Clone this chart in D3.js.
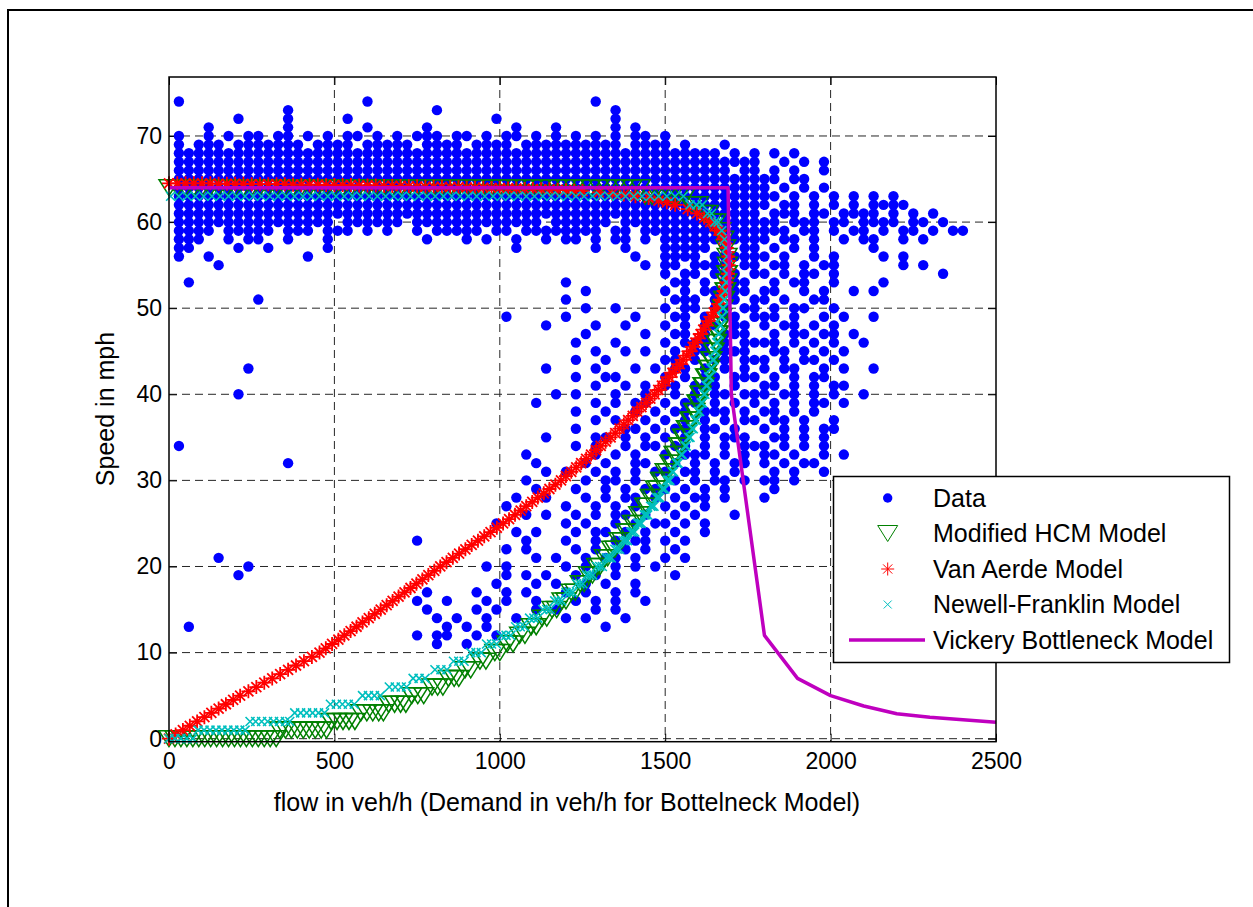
<!DOCTYPE html>
<html>
<head>
<meta charset="utf-8">
<script src="https://cdn.jsdelivr.net/npm/d3@7"></script>
<style>
  body { margin: 0; background: #fff; }
  svg { display: block; }
  text { font-family: "Liberation Sans", Arial, sans-serif; fill: #000; }
</style>
</head>
<body>
<svg id="chart" width="1253" height="907"></svg>
<script>
// ---- axes ----
const xTicks = [0, 500, 1000, 1500, 2000, 2500];
const yTicks = [0, 10, 20, 30, 40, 50, 60, 70];
const xLabel = "flow in veh/h (Demand in veh/h for Bottelneck Model)";
const yLabel = "Speed in mph";
const legendNames = ["Data", "Modified HCM Model", "Van Aerde Model", "Newell-Franklin Model", "Vickery Bottleneck Model"];

// ---- observed data: one row per integer speed (top row = 74 mph),
// one character per 30 veh/h flow bin ('o' = observation) ----
const dataFlowStep = 30;
const dataTopSpeed = 74;
const dataGrid = [
  ".o........ .......... o......... .......... ...o...... .......... .......... .......... ..........", // 74
  ".......... ..o....... .......o.. .......... .....o.... .......... .......... .......... ..........", // 73
  ".......o.. ..o.....o. .......... ...o...... .....o.... .......... .......... .......... ..........", // 72
  "....o..... ..o....... o.....o... .....o...o .....o.o.. .......... .......... .......... ..........", // 71
  ".o..o.o.oo .oo.o.o.oo .o.o.ooo.o o.o.oo.o.o .o.o.o.oo. o......... .......... .......... ..........", // 70
  ".o.ooo.ooo oooo.oooo. ooooo.oooo .oooo.oooo oooooo.ooo o.o...o... .......... .......... ..........", // 69
  ".ooooooooo oooooooooo oooooooooo oooooooooo oooooooooo oooooo.o.o .o.o...... .......... ..........", // 68
  ".ooooooooo oooooooooo oooooooooo oooooooooo oooooooooo oooooooooo ..o.o.o... .......... ..........", // 67
  ".ooooooooo oooooooooo oooooooooo oooooooooo oooooooooo ooooooo.oo .o.o..o... .......... ..........", // 66
  ".ooooooooo oooooooooo oooooooooo oooooooooo oooooooooo oooooooooo oo.oo..... .......... ..........", // 65
  ".ooooooooo oooooooooo oooooooooo oooooooooo oooooooooo oooooooooo o.o.o.o... .......... ..........", // 64
  ".ooooooooo oooooooooo oooooooooo oooooooooo oooooooooo oooooooooo oo.o.o.o.o .o.o...... ..........", // 63
  ".ooooooooo oooooooooo oooooooooo oooooooooo oooooooooo oooooooooo o.oo.o.o.o .oooo..... ..........", // 62
  ".ooooooooo oooooooooo oooooooooo oooooooooo oooooooooo oooooooooo .ooo.oo.oo oo.o.o.o.. ..........", // 61
  ".ooooooooo ooooooo.oo oooo.ooooo oooooooo.o ooooo.oooo oooooooooo oo.ooo.oo. oooo.oo.o. ..........", // 60
  ".oooo.oooo o.ooo.ooo. o.o..o.ooo oo.oo.oooo oooo.oo.oo oooooooooo ooo.oo.o.o o.o.oo.o.o o.........", // 59
  ".ooo..o.oo ..o...o... ......o... o.o..o..o. oo.o.oo.o. oooooooooo o.oo.o..o. oo..o.o... ..........", // 58
  ".oo....o.. o.....o... .......... .....o.... ...o..o... ooooo.o.oo .o.o.o.... .o........ ..........", // 57
  ".o..o..... ....o..... .......... .......... .......o.. oooo.ooooo o.o..o.o.. ..o.o..... ..........", // 56
  ".....o.... .......... .......... .......... ........o. oo.oooo.oo .oo.o.oo.. ....o.o... ..........", // 55
  ".......... .......... .......... .......... .......... o.oo.ooo.o o.o.oo.o.. ........o. ..........", // 54
  "..o....... .......... .......... .......... o......... .oo.o.ooo. .o.oo..o.. ..o....... ..........", // 53
  ".......... .......... .......... .......... ..o....... o.o.oo.oo. oo..o.o..o .o........ ..........", // 52
  ".........o .......... .......... .......... o......... .ooo.o.o.o o.o..oo... .......... ..........", // 51
  ".......... .......... .......... .......... ..o..o.... o.oo.oo.oo .o.oo..o.. .......... ..........", // 50
  ".......... .......... .......... ....o..... o......o.. .oo.o.oo.o oo.o..o.o. .o........ ..........", // 49
  ".......... .......... .......... ........o. ...o..o... o.o.oo.oo. o.oo.o.o.. .......... ..........", // 48
  ".......... .......... .......... .......... ..o.....o. .oo.o.ooo. .o.oo.oo.o .......... ..........", // 47
  ".......... .......... .......... .......... .o...o.... o.ooo.o.oo oo.o.o.o.. o......... ..........", // 46
  ".......... .......... .......... .......... ...o..o.o. .o.oo.ooo. .oo.o.o.o. .......... ..........", // 45
  ".......... .......... .......... .......... .o..o..... oo.o.oo.oo o.o.oo.o.. .......... ..........", // 44
  "........o. .......... .......... ........o. ...o...o.o .oo.o.o.o. o.oo..o.o. .o........ ..........", // 43
  ".......... .......... .......... .......... .o..oo.... o.o.oo.ooo .o.o.oo... .......... ..........", // 42
  ".......... .......... .......... .......... ...o..o.o. oo.ooo.o.. oo.o.o.oo. .......... ..........", // 41
  ".......o.. .......... .......... .........o .o...o..o. .o.o.oo.oo o.oo.o.o.. o......... ..........", // 40
  ".......... .......... .......... .......o.. ...o.o.oo. o.oo.o.o.o .o.o.oo.o. .......... ..........", // 39
  ".......... .......... .......... .......... .o..o..o.o .oo.ooo.o. oo.o.o.... .......... ..........", // 38
  ".......... .......... .......... .......... ...o.o..o. o.o.o.o.oo .oo.o..o.. .......... ..........", // 37
  ".......... .......... .......... .......... .o....oo.o .oo.oo.o.. o.o.o.oo.. .......... ..........", // 36
  ".......... .......... .......... ........o. ...oo.o.o. o.o.o.ooo. .oo.o.o... .......... ..........", // 35
  ".o........ .......... .......... .......... .o.o..o.oo .oo.o.o.oo o.o.o.o... .......... ..........", // 34
  ".......... .......... .......... ......o... ...o.o.o.. o.ooo.o.o. oo.o..o.o. .......... ..........", // 33
  ".......... ..o....... .......... .......o.. ..o.o..oo. .o.o.o.oo. o.o.oo.... .......... ..........", // 32
  ".......... .......... .......... ........o. o..o.o.o.o o.oo.o.o.. .o.o..o... .......... ..........", // 31
  ".......... .......... .......... ......o... ..o.oo.o.. .o.o.oo.o. oo.o...... .......... ..........", // 30
  ".......... .......... .......... .......o.. .o..o.o.oo o.o.o.o... .o........ .......... ..........", // 29
  ".......... .......... .......... .....o..o. ..o.o.oo.o .o.oo.o... o......... .......... ..........", // 28
  ".......... .......... .......... ....o..... o..o.o.o.. o.o.o..... .......... .......... ..........", // 27
  ".......... .......... .......... ......o.o. .o.o.oo.o. .o.o...o.. .......... .......... ..........", // 26
  ".......... .......... .......... ...o...... o.o..o.o.o o.o.o..... .......... .......... ..........", // 25
  ".......... .......... .......... .....o.o.. .o.oo.o.o. .o..o..... .......... .......... ..........", // 24
  ".......... .......... .....o.... ......o... o..o.o.oo. o.o....... .......... .......... ..........", // 23
  ".......... .......... .......... ....o.o... .o.o..o.o. .o........ .......... .......... ..........", // 22
  ".....o.... .......... .......... .......o.o ..o.oo.o.. o.o....... .......... .......... ..........", // 21
  "........o. .......... .......... ..o.o..... o.o..o.o.o .......... .......... .......... ..........", // 20
  ".......o.. .......... .......... ....o.o.o. .o.o.o.... .o........ .......... .......... ..........", // 19
  ".......... .......... .......... ...o...o.o ..o.o..o.. .......... .......... .......... ..........", // 18
  ".......... .......... ......o... .o..o.o... o.o..o.o.. .......... .......... .......... ..........", // 17
  ".......... .......... .....o..o. ..o.o..o.. .o.o.o..o. .......... .......... .......... ..........", // 16
  ".......... .......... ......o... .o.o...o.o ...o.o.... .......... .......... .......... ..........", // 15
  ".......... .......... .......o.o ..o..o.... o.o...o... .......... .......... .......... ..........", // 14
  "..o....... .......... ........o. o.o....... ....o..... .......... .......... .......... ..........", // 13
  ".......... .......... .....o.oo. .o.o...... .......... .......... .......... .......... ..........", // 12
  ".......... .......... .......o.. o......... .......... .......... .......... .......... ..........", // 11
];

// ---- Modified HCM model: [speed, flows at that speed] ----
const hcmRows = [
  [0, [0,18,36,54,72,90,108,126,144,162,180,198,216,234,252,270,288,306,324]],
  [1, [335,352,370,388,406,424,442,460,476]],
  [2, [490,508,526,544,562]],
  [3, [580,598,616,634,648]],
  [4, [664,682,700,716]],
  [5, [734,752,770]],
  [6, [795,812,828]],
  [7, [845,862,876]],
  [8, [895,912]], [9, [940,958]], [10, [985,1000]], [11, [1022,1040]],
  [12, [1060,1076]], [13, [1095,1110]], [14, [1128,1142]], [15, [1158,1172]],
  [16, [1188,1200]], [17, [1216,1228]], [18, [1243,1255]], [19, [1268,1280]],
  [20, [1293,1303]], [21, [1316,1326]], [22, [1338,1348]], [23, [1360,1369]],
  [24, [1381,1389]], [25, [1401,1409]], [26, [1420,1428]], [27, [1438,1445]],
  [28, [1455,1462]], [29, [1471,1478]], [30, [1486,1493]], [31, [1500,1507]],
  [32, [1514,1520]], [33, [1527,1533]], [34, [1540,1546]], [35, [1552,1557]],
  [36, [1564,1569]], [37, [1575,1580]], [38, [1586,1590]], [39, [1596,1600]],
  [40, [1605,1609]], [41, [1614,1618]], [42, [1622,1626]], [43, [1630,1634]],
  [44, [1638,1641]], [45, [1645,1648]], [46, [1652,1655]], [47, [1658,1661]],
  [48, [1664,1666]], [49, [1669,1671]], [50, [1673,1675]], [51, [1677,1679]],
  [52, [1681,1683]], [53, [1684,1686]], [54, [1686,1688]], [55, [1688]],
  [56, [1687]], [57, [1683]], [58, [1677]], [59, [1668]], [60, [1653,1640]],
  [61, [1630,1615]], [62, [1600,1580]],
  [63, [1560,1540,1520,1500,1480,1460,1440]],
  [64, [1425,1400,1375,1350,1325,1300,1275,1250,1225,1200,1175,1150,1125,1100,1075,1050,1025,1000,
        975,950,925,900,875,850,825,800,775,750,725,700,675,650,625,600,575,550,525,500,475,450,
        425,400,375,350,325,300,275,250,225,200,175,150,125,100,75,50,25,0]]
];

// ---- Van Aerde model: [flow, speed] ----
const vanAerdePoints = [
  [0,0],[20,0.5],[42,1],[63,1.5],[85,2],[107,2.5],[128,3],[150,3.5],[172,4],[194,4.5],[215,5],
  [240,5.5],[264,6],[288,6.5],[312,7],[336,7.5],[360,8],[384,8.5],[408,9],[432,9.5],[455,10],
  [474,10.5],[493,11],[512,11.5],[530,12],[549,12.5],[567,13],[585,13.5],[604,14],[622,14.5],[640,15],
  [658,15.5],[676,16],[694,16.5],[712,17],[730,17.5],[748,18],[766,18.5],[784,19],[802,19.5],[820,20],
  [839,20.5],[858,21],[877,21.5],[896,22],[915,22.5],[934,23],[953,23.5],[972,24],[991,24.5],[1010,25],
  [1028,25.5],[1046,26],[1063,26.5],[1080,27],[1098,27.5],[1115,28],[1133,28.5],[1150,29],[1168,29.5],[1185,30],
  [1200,30.5],[1216,31],[1231,31.5],[1246,32],[1261,32.5],[1276,33],[1291,33.5],[1305,34],[1320,34.5],[1335,35],
  [1349,35.5],[1362,36],[1375,36.5],[1388,37],[1402,37.5],[1415,38],[1428,38.5],[1442,39],[1455,39.5],[1468,40],
  [1479,40.5],[1490,41],[1501,41.5],[1512,42],[1522,42.5],[1533,43],[1544,43.5],[1554,44],[1565,44.5],[1575,45],
  [1583,45.5],[1591,46],[1599,46.5],[1607,47],[1615,47.5],[1623,48],[1631,48.5],[1639,49],[1647,49.5],[1655,50],
  [1661,50.5],[1667,51],[1672,51.5],[1677,52],[1681,52.5],[1685,53],[1688,53.5],[1690,54],[1691,54.5],[1692,55],
  [1692,55.5],[1691,56],[1689,56.5],[1686,57],[1682,57.5],[1677,58],[1670,58.5],[1661,59],[1650,59.5],[1636,60],
  [1618,60.5],[1596,61],[1568,61.5],[1530,62],[1505,62.3],[1480,62.5],[1450,62.8],[1410,63],[1375,63.2],[1340,63.3],
  [1300,63.45],[1250,63.6],[1225,63.65],[1200,63.7],[1175,63.75],[1150,63.8],[1125,63.8],[1100,63.85],[1075,63.85],
  [1050,63.9],[1025,63.9],[1000,63.95],[975,63.95],[950,64],[925,64],[900,64],[875,64.05],[850,64.05],[825,64.1],
  [800,64.1],[775,64.1],[750,64.15],[725,64.15],[700,64.2],[675,64.2],[650,64.2],[625,64.25],[600,64.25],[575,64.25],
  [550,64.3],[525,64.3],[500,64.3],[475,64.3],[450,64.35],[425,64.35],[400,64.35],[375,64.35],[350,64.4],[325,64.4],
  [300,64.4],[275,64.4],[250,64.4],[225,64.45],[200,64.45],[175,64.45],[150,64.45],[125,64.5],[100,64.5],[75,64.5],
  [50,64.5],[25,64.5],[0,64.5]
];

// ---- Newell-Franklin model: [speed, flows at that speed] ----
const newellRows = [
  [0, [0,18,36,54,72]],
  [1, [88,106,124,142,160,178,196,214,230]],
  [2, [245,262,280,298,316,334,352,365]],
  [3, [380,398,416,434,452,470]],
  [4, [488,506,524,542,560]],
  [5, [585,603,621,639]],
  [6, [666,684,702,718]],
  [7, [738,756,774]], [8, [804,822,840]], [9, [860,876,892]], [10, [912,928,944]],
  [11, [960,975,990]], [12, [1005,1019,1033]], [13, [1048,1062,1075]], [14, [1090,1103,1115]],
  [15, [1130,1142,1152]], [16, [1166,1177,1187]], [17, [1200,1211,1220]], [18, [1232,1242,1251]],
  [19, [1263,1272,1281]], [20, [1293,1302,1310]], [21, [1322,1330,1337]], [22, [1348,1355,1362]],
  [23, [1373,1380,1386]], [24, [1396,1402,1408]], [25, [1417,1423,1428]], [26, [1437,1442,1447]],
  [27, [1456,1461,1466]], [28, [1474,1479,1483]], [29, [1491,1495,1499]], [30, [1506,1510,1514]],
  [31, [1521,1525]], [32, [1535,1539]], [33, [1548,1552]], [34, [1560,1564]], [35, [1571,1575]],
  [36, [1581,1585]], [37, [1591,1595]], [38, [1600,1604]], [39, [1609,1612]], [40, [1617,1620]],
  [41, [1624,1627]], [42, [1631,1634]], [43, [1638,1641]], [44, [1644,1647]], [45, [1650,1653]],
  [46, [1656,1658]], [47, [1661,1663]], [48, [1666,1668]], [49, [1670,1672]], [50, [1674,1676]],
  [51, [1678,1680]], [52, [1681,1683]], [53, [1684,1686]], [54, [1686,1688]], [55, [1688]],
  [56, [1687]], [57, [1684]], [58, [1679]], [59, [1671]], [60, [1660,1650]], [61, [1640,1628]],
  [62, [1612,1595,1575]],
  [63, [1555,1530,1505,1480,1455,1430,1405,1380,1355,1330,1305,1280,1255,1230,1205,1180,1155,1130,
        1105,1080,1055,1030,1005,980,955,930,905,880,855,830,805,780,755,730,705,680,655,630,605,580,
        555,530,505,480,455,430,405,380,355,330,305,280,255,230,205,180,155,130,105,80,55,30,5]]
];

// ---- Vickery bottleneck model: demand vs speed ----
const vickeryDemand = [0, 1690, 1700, 1800, 1900, 2000, 2100, 2200, 2300, 2400, 2500];
const vickerySpeed  = [64, 64, 40, 12, 7, 5, 3.8, 2.9, 2.5, 2.2, 1.9];

// ---- colours ----
const colData = "#0000ff", colHcm = "#008000", colVan = "#ff0000", colNewell = "#00bfbf", colVick = "#bf00bf";

// ---- layout ----
const svg = d3.select("#chart");
const x = d3.scaleLinear().domain([0, 2500]).range([169, 996]);
const y = d3.scaleLinear().domain([-0.35, 76.85]).range([741.7, 77]);

// figure frame
svg.append("path").attr("d", "M8,907 L8,10 L1253,10")
  .attr("fill", "none").attr("stroke", "#000").attr("stroke-width", 2);

// grid
const grid = svg.append("g").attr("stroke", "#000").attr("stroke-width", 1)
  .attr("stroke-dasharray", "8,5").attr("opacity", 0.85);
grid.selectAll("line.gx").data(xTicks.filter(t => t > 0 && t < 2500)).join("line")
  .attr("x1", d => x(d)).attr("x2", d => x(d)).attr("y1", 77).attr("y2", 741.7);
grid.selectAll("line.gy").data(yTicks).join("line")
  .attr("y1", d => y(d)).attr("y2", d => y(d)).attr("x1", 169).attr("x2", 996);

// axes
function styleAxis(g) {
  g.select(".domain").remove();
  g.selectAll(".tick line").attr("stroke", "#000");
  g.selectAll(".tick text").style("font-size", "23px").style("font-family", '"Liberation Sans", Arial, sans-serif');
}
svg.append("g").attr("transform", "translate(0,741.7)")
  .call(d3.axisBottom(x).tickValues(xTicks).tickSize(-8).tickPadding(11).tickFormat(d3.format("d"))).call(styleAxis);
svg.append("g").attr("transform", "translate(0,77)")
  .call(d3.axisTop(x).tickValues(xTicks).tickSize(-8).tickFormat("")).call(styleAxis);
svg.append("g").attr("transform", "translate(169,0)")
  .call(d3.axisLeft(y).tickValues(yTicks).tickSize(-8).tickPadding(7).tickFormat(d3.format("d"))).call(styleAxis);
svg.append("g").attr("transform", "translate(996,0)")
  .call(d3.axisRight(y).tickValues(yTicks).tickSize(-8).tickFormat("")).call(styleAxis);

// marker shapes
const triPath = "M-10,-8L10,-8L0,8Z";
const starPath = "M-7,0H7M0,-7V7M-5,-5L5,5M-5,5L5,-5";
const crossPath = "M-4.5,-4.5L4.5,4.5M-4.5,4.5L4.5,-4.5";

// data points
const dataPoints = [];
dataGrid.forEach((row, r) => {
  row.replace(/ /g, "").split("").forEach((ch, c) => {
    if (ch === "o") dataPoints.push([c * dataFlowStep, dataTopSpeed - r]);
  });
});
const plot = svg.append("g");
plot.append("g").selectAll("circle").data(dataPoints).join("circle")
  .attr("cx", d => x(d[0])).attr("cy", d => y(d[1])).attr("r", 5.2).attr("fill", colData);

const rowsToPoints = rows => rows.flatMap(([s, flows]) => flows.map(f => [f, s]));

plot.append("g").selectAll("path").data(rowsToPoints(hcmRows)).join("path")
  .attr("d", triPath).attr("transform", d => `translate(${x(d[0])},${y(d[1])})`)
  .attr("fill", "none").attr("stroke", colHcm).attr("stroke-width", 1.5);

plot.append("g").selectAll("path").data(vanAerdePoints).join("path")
  .attr("d", starPath).attr("transform", d => `translate(${x(d[0])},${y(d[1])})`)
  .attr("fill", "none").attr("stroke", colVan).attr("stroke-width", 1.8);

plot.append("g").selectAll("path").data(rowsToPoints(newellRows)).join("path")
  .attr("d", crossPath).attr("transform", d => `translate(${x(d[0])},${y(d[1])})`)
  .attr("fill", "none").attr("stroke", colNewell).attr("stroke-width", 1.6);

plot.append("path")
  .datum(vickeryDemand.map((d, i) => [d, vickerySpeed[i]]))
  .attr("d", d3.line().x(d => x(d[0])).y(d => y(d[1])))
  .attr("fill", "none").attr("stroke", colVick).attr("stroke-width", 3.5).attr("stroke-linejoin", "round");

// axis box
svg.append("rect").attr("x", 169).attr("y", 77).attr("width", 996 - 169).attr("height", 741.7 - 77)
  .attr("fill", "none").attr("stroke", "#000").attr("stroke-width", 1.5);

// axis labels
svg.append("text").attr("x", 567).attr("y", 811).attr("text-anchor", "middle")
  .style("font-size", "25px").text(xLabel);
svg.append("text").attr("transform", "translate(114,409) rotate(-90)").attr("text-anchor", "middle")
  .style("font-size", "25px").text(yLabel);

// legend
const lg = svg.append("g");
lg.append("rect").attr("x", 833.5).attr("y", 476.5).attr("width", 396).attr("height", 186)
  .attr("fill", "#fff").attr("stroke", "#000").attr("stroke-width", 1.5);
const rowY = [498, 533.5, 569, 604.5, 640];
const mx = 887.7;
lg.append("circle").attr("cx", mx).attr("cy", rowY[0]).attr("r", 4.7).attr("fill", colData);
lg.append("path").attr("d", triPath).attr("transform", `translate(${mx},${rowY[1]})`)
  .attr("fill", "none").attr("stroke", colHcm);
lg.append("path").attr("d", "M-6.5,0H6.5M0,-6.5V6.5M-4.6,-4.6L4.6,4.6M-4.6,4.6L4.6,-4.6")
  .attr("transform", `translate(${mx},${rowY[2]})`).attr("fill", "none").attr("stroke", colVan);
lg.append("path").attr("d", "M-4,-4L4,4M-4,4L4,-4").attr("transform", `translate(${mx},${rowY[3]})`)
  .attr("fill", "none").attr("stroke", colNewell);
lg.append("line").attr("x1", 849).attr("x2", 925).attr("y1", rowY[4]).attr("y2", rowY[4])
  .attr("stroke", colVick).attr("stroke-width", 3.5);
lg.selectAll("text.lab").data(legendNames).join("text")
  .attr("x", 933).attr("y", (d, i) => rowY[i] + 8.5).style("font-size", "25px").text(d => d);
</script>
</body>
</html>
